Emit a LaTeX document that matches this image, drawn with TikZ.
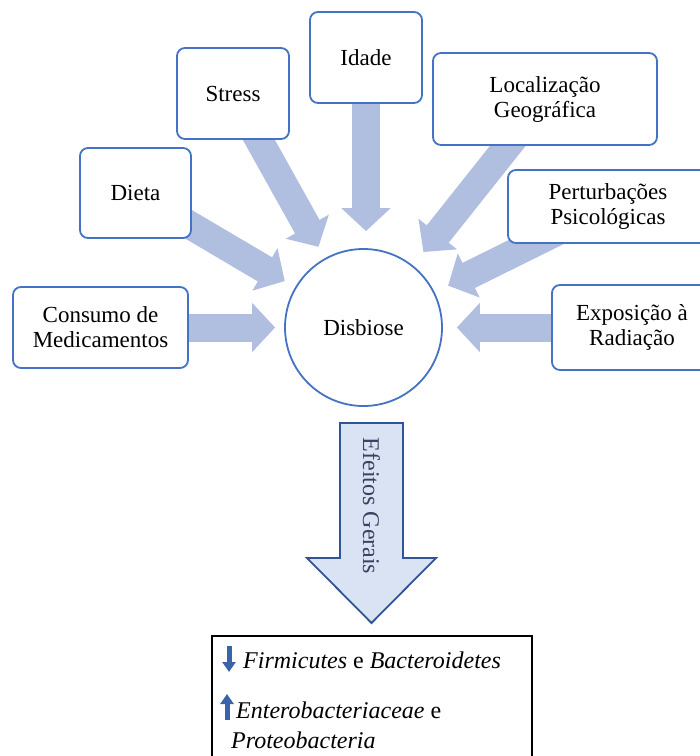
\documentclass[tikz,border=0pt]{standalone}
\usepackage{fontspec}
\setmainfont{Liberation Serif}
\usetikzlibrary{arrows.meta,backgrounds}
\definecolor{boxblue}{RGB}{68,114,196}
\definecolor{fatblue}{RGB}{176,190,224}
\definecolor{effblue}{RGB}{218,227,243}
\definecolor{effline}{RGB}{47,85,151}
\definecolor{efftext}{RGB}{56,66,96}
\definecolor{markblue}{RGB}{59,99,170}
\begin{document}
\begin{tikzpicture}[
    x=1pt, y=-1pt,
    factor/.style={rectangle, rounded corners=8pt, draw=boxblue, line width=1.8pt, fill=white,
        align=center, font=\fontsize{23}{25}\selectfont},
    fat/.style={draw=fatblue, line width=28pt, -{Triangle[width=48pt,length=23pt]}},
    note/.style={anchor=base west, inner sep=0pt, font=\fontsize{24}{31}\selectfont},
    trendarrow/.style={draw=markblue, line width=5pt, -{Triangle[width=13pt,length=10pt]}}
]
    \clip (0,0) rectangle (700,756);
    \useasboundingbox (0,0) rectangle (700,756);

    % Central node
    \node[circle, draw=boxblue, line width=1.8pt, fill=white, minimum size=157pt,
        font=\fontsize{23}{25}\selectfont] (dis) at (363.5,327.5) {Disbiose};

    % Factors
    \node[factor, minimum width=175pt, minimum height=81pt] (consumo) at (100.5,327.5) {Consumo de\\Medicamentos};
    \node[factor, minimum width=111pt, minimum height=90pt] (dieta) at (135.5,193) {Dieta};
    \node[factor, minimum width=112pt, minimum height=91pt] (stress) at (233,93.5) {Stress};
    \node[factor, minimum width=112pt, minimum height=91pt] (idade) at (366,57.5) {Idade};
    \node[factor, minimum width=224pt, minimum height=92pt] (local) at (545,99) {Localização\\Geográfica};
    \node[factor, minimum width=200pt, minimum height=73pt] (pert) at (608,206.5) {Perturbações\\Psicológicas};
    \node[factor, minimum width=160pt, minimum height=85pt] (expo) at (632,327.5) {Exposição à\\Radiação};

    % Arrows into Disbiose
    \begin{pgfonlayer}{background}
        \draw[fat, shorten >=9pt] (consumo.center) -- (dis);
        \draw[fat, shorten >=12pt] (dieta.center) -- (dis);
        \draw[fat, shorten >=13pt] (stress.center) -- (dis);
        \draw[fat, shorten >=17pt] (idade.center) -- (idade.center |- dis.north);
        \draw[fat, shorten >=17pt] (local.center) -- (dis);
        \draw[fat, shorten >=15pt] (pert.center) -- (dis);
        \draw[fat, shorten >=14pt] (expo.center) -- (dis);
    \end{pgfonlayer}

    % Efeitos Gerais
    \draw[draw=effline, fill=effblue, line width=1.8pt, line join=miter]
        (340,423) -- (403,423) -- (403,558) -- (436,558) -- (371.5,623)
        -- (307,558) -- (340,558) -- cycle;
    \node[rotate=-90, text=efftext, font=\fontsize{24}{26}\selectfont] (efeitos) at (371.5,506) {Efeitos Gerais};

    % Effects box
    \draw[line width=1.2pt] (212,770) -- (212,636) -- (532,636) -- (532,770);
    \node[note] (firm) at (243,668) {\textit{Firmicutes} e \textit{Bacteroidetes}};
    \node[note] (entero) at (236,718) {\textit{Enterobacteriaceae} e};
    \node[note] (proteo) at (231,748) {\textit{Proteobacteria}};
    \draw[trendarrow] ([xshift=-14pt,yshift=22pt]firm.base west) -- ([xshift=-14pt,yshift=-4pt]firm.base west);
    \draw[trendarrow] ([xshift=-9pt,yshift=-2pt]entero.base west) -- ([xshift=-9pt,yshift=24pt]entero.base west);

\end{tikzpicture}
\end{document}
